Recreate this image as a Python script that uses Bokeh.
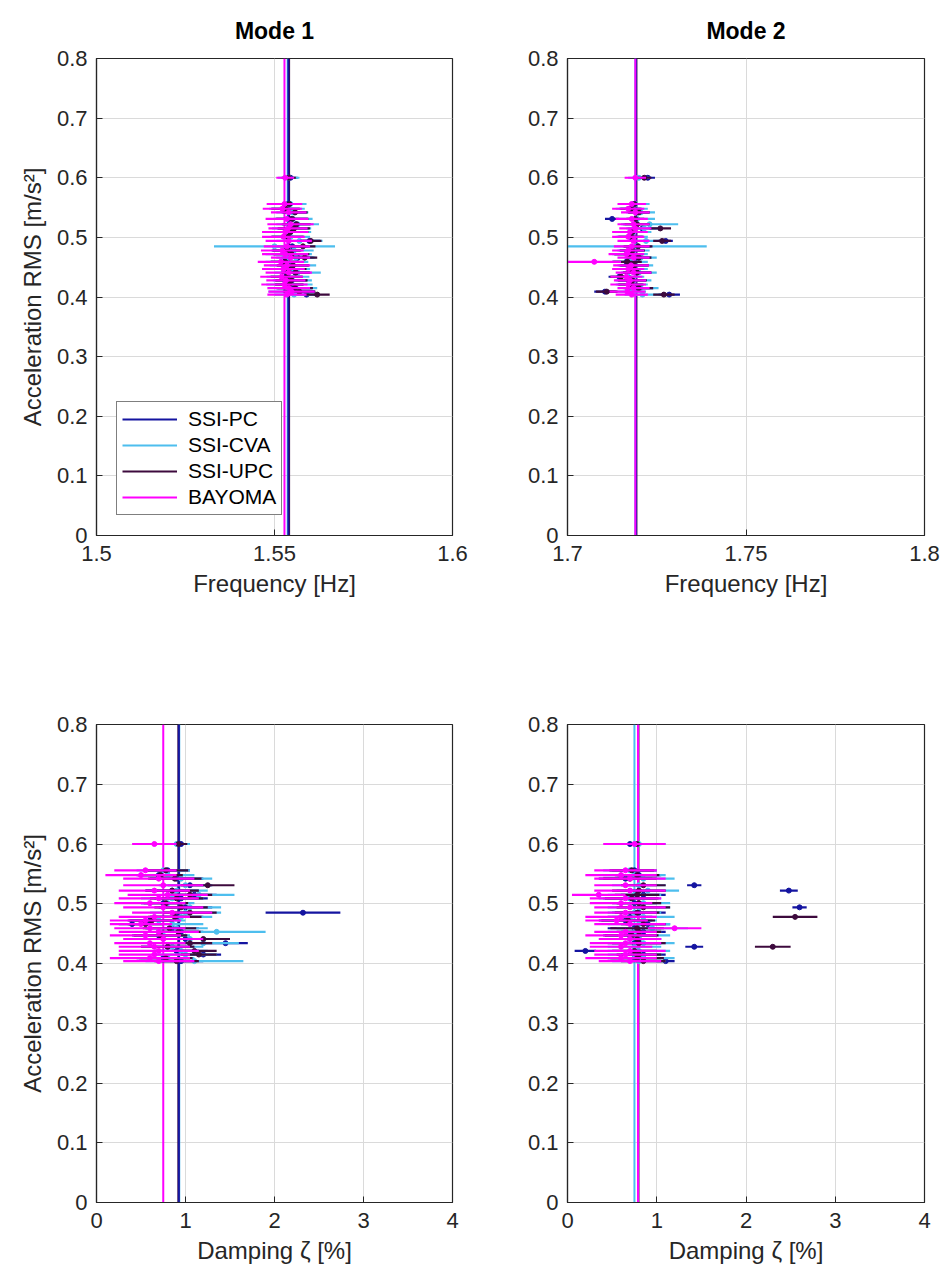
from bokeh.plotting import figure
from bokeh.layouts import gridplot
from bokeh.models import Range1d, FixedTicker, PrintfTickFormatter, Legend, LegendItem, ColumnDataSource
from bokeh.embed import file_html
from bokeh.resources import INLINE

# ---------------- data ----------------
methods = ["SSI-PC", "SSI-CVA", "SSI-UPC", "BAYOMA"]
colors = ["#1414a0", "#4dbeee", "#3d0a3d", "#ff00ff"]

rms = [0.600, 0.556, 0.548, 0.542, 0.531, 0.522, 0.515, 0.509, 0.501, 0.494, 0.485, 0.478,
       0.472, 0.466, 0.459, 0.453, 0.447, 0.441, 0.434, 0.428, 0.421, 0.415, 0.409, 0.404]

# Mode 1 frequency [Hz]
f1_pc = [1.5545, 1.5538, 1.5530, 1.5555, 1.5548, 1.5560, 1.5552, 1.5542, 1.5535, 1.5598, 1.5550, 1.5532,
         1.5545, 1.5565, 1.5528, 1.5550, 1.5538, 1.5558, 1.5532, 1.5546, 1.5540, 1.5555, 1.5568, 1.5590]
f1_pc_sd = [0.0020, 0.0035, 0.0040, 0.0035, 0.0045, 0.0040, 0.0045, 0.0050, 0.0045, 0.0030, 0.0045, 0.0040,
            0.0050, 0.0045, 0.0040, 0.0045, 0.0050, 0.0040, 0.0045, 0.0045, 0.0040, 0.0050, 0.0045, 0.0035]
f1_cva = [1.5540, 1.5545, 1.5535, 1.5550, 1.5552, 1.5565, 1.5548, 1.5538, 1.5545, 1.5570, 1.5500, 1.5555,
          1.5540, 1.5560, 1.5535, 1.5552, 1.5545, 1.5565, 1.5538, 1.5550, 1.5542, 1.5560, 1.5548, 1.5555]
f1_cva_sd = [0.0030, 0.0045, 0.0050, 0.0045, 0.0055, 0.0060, 0.0055, 0.0065, 0.0055, 0.0065, 0.0170, 0.0055,
             0.0065, 0.0055, 0.0060, 0.0065, 0.0055, 0.0065, 0.0060, 0.0055, 0.0065, 0.0060, 0.0065, 0.0055]
f1_upc = [1.5540, 1.5542, 1.5532, 1.5558, 1.5550, 1.5562, 1.5555, 1.5545, 1.5538, 1.5602, 1.5580, 1.5535,
          1.5548, 1.5585, 1.5530, 1.5552, 1.5540, 1.5560, 1.5535, 1.5548, 1.5542, 1.5558, 1.5570, 1.5620]
f1_upc_sd = [0.0020, 0.0035, 0.0040, 0.0035, 0.0045, 0.0040, 0.0045, 0.0050, 0.0045, 0.0030, 0.0035, 0.0040,
             0.0050, 0.0035, 0.0040, 0.0045, 0.0050, 0.0040, 0.0045, 0.0045, 0.0040, 0.0050, 0.0045, 0.0035]
f1_bay = [1.5530, 1.5528, 1.5522, 1.5540, 1.5535, 1.5545, 1.5538, 1.5530, 1.5525, 1.5540, 1.5535, 1.5522,
          1.5530, 1.5545, 1.5518, 1.5535, 1.5525, 1.5540, 1.5520, 1.5532, 1.5528, 1.5540, 1.5548, 1.5535]
f1_bay_sd = [0.0025, 0.0050, 0.0055, 0.0050, 0.0060, 0.0065, 0.0055, 0.0065, 0.0060, 0.0065, 0.0065, 0.0060,
             0.0065, 0.0055, 0.0065, 0.0065, 0.0060, 0.0065, 0.0060, 0.0055, 0.0065, 0.0060, 0.0065, 0.0055]
f1_mean = [1.5539, 1.5537, 1.5541, 1.5528]

# Mode 2 frequency [Hz]
f2_pc = [1.7225, 1.7185, 1.7175, 1.7200, 1.7125, 1.7190, 1.7210, 1.7180, 1.7175, 1.7275, 1.7195, 1.7180,
         1.7170, 1.7200, 1.7165, 1.7185, 1.7175, 1.7195, 1.7145, 1.7180, 1.7175, 1.7200, 1.7105, 1.7285]
f2_pc_sd = [0.0020, 0.0030, 0.0030, 0.0030, 0.0020, 0.0035, 0.0040, 0.0040, 0.0035, 0.0020, 0.0040, 0.0035,
            0.0040, 0.0035, 0.0040, 0.0040, 0.0035, 0.0040, 0.0030, 0.0040, 0.0035, 0.0040, 0.0030, 0.0030]
f2_cva = [1.7200, 1.7190, 1.7180, 1.7205, 1.7195, 1.7230, 1.7215, 1.7185, 1.7180, 1.7220, 1.7195, 1.7185,
          1.7175, 1.7205, 1.7175, 1.7190, 1.7180, 1.7200, 1.7170, 1.7185, 1.7180, 1.7205, 1.7175, 1.7210]
f2_cva_sd = [0.0030, 0.0040, 0.0045, 0.0040, 0.0050, 0.0080, 0.0050, 0.0050, 0.0045, 0.0050, 0.0195, 0.0045,
             0.0050, 0.0045, 0.0050, 0.0050, 0.0045, 0.0050, 0.0045, 0.0050, 0.0045, 0.0050, 0.0045, 0.0050]
f2_upc = [1.7215, 1.7188, 1.7178, 1.7200, 1.7190, 1.7195, 1.7260, 1.7182, 1.7178, 1.7265, 1.7198, 1.7182,
          1.7172, 1.7200, 1.7168, 1.7188, 1.7178, 1.7195, 1.7150, 1.7182, 1.7178, 1.7200, 1.7110, 1.7270]
f2_upc_sd = [0.0020, 0.0030, 0.0030, 0.0030, 0.0025, 0.0035, 0.0030, 0.0040, 0.0035, 0.0025, 0.0040, 0.0035,
             0.0040, 0.0035, 0.0040, 0.0040, 0.0035, 0.0040, 0.0030, 0.0040, 0.0035, 0.0040, 0.0030, 0.0030]
f2_bay = [1.7190, 1.7180, 1.7170, 1.7190, 1.7180, 1.7185, 1.7190, 1.7175, 1.7170, 1.7185, 1.7180, 1.7170,
          1.7165, 1.7185, 1.7075, 1.7178, 1.7170, 1.7185, 1.7165, 1.7175, 1.7170, 1.7185, 1.7168, 1.7180]
f2_bay_sd = [0.0030, 0.0040, 0.0045, 0.0040, 0.0045, 0.0045, 0.0045, 0.0050, 0.0045, 0.0045, 0.0050, 0.0045,
             0.0050, 0.0045, 0.0075, 0.0050, 0.0045, 0.0050, 0.0045, 0.0045, 0.0050, 0.0045, 0.0050, 0.0045]
f2_mean = [1.7192, 1.7190, 1.7193, 1.7190]

# Mode 1 damping [%]
d1_pc = [0.95, 0.80, 0.70, 0.90, 1.05, 0.85, 1.10, 0.95, 0.75, 1.00, 2.32, 0.90,
         0.60, 0.40, 0.85, 0.95, 0.70, 1.00, 1.45, 0.80, 0.90, 1.20, 0.75, 0.95]
d1_pc_sd = [0.10, 0.25, 0.25, 0.30, 0.25, 0.30, 0.25, 0.30, 0.25, 0.30, 0.42, 0.30,
            0.25, 0.15, 0.30, 0.25, 0.30, 0.25, 0.25, 0.30, 0.25, 0.20, 0.30, 0.25]
d1_cva = [0.90, 0.75, 0.80, 0.95, 1.00, 0.90, 1.15, 0.85, 0.80, 1.05, 1.00, 0.95,
          0.70, 0.85, 0.90, 1.35, 0.75, 1.05, 1.20, 0.85, 0.95, 1.00, 0.80, 1.10]
d1_cva_sd = [0.15, 0.30, 0.30, 0.35, 0.30, 0.35, 0.40, 0.35, 0.30, 0.35, 0.40, 0.35,
             0.30, 0.35, 0.35, 0.55, 0.30, 0.35, 0.40, 0.35, 0.30, 0.35, 0.30, 0.55]
d1_upc = [0.92, 0.78, 0.72, 0.88, 1.25, 0.85, 1.05, 0.90, 0.78, 0.95, 1.05, 0.88,
          0.62, 0.55, 0.82, 0.92, 0.72, 1.20, 1.05, 0.80, 1.10, 1.15, 0.78, 0.90]
d1_upc_sd = [0.10, 0.25, 0.25, 0.30, 0.30, 0.30, 0.25, 0.30, 0.25, 0.30, 0.30, 0.30,
             0.25, 0.20, 0.30, 0.25, 0.30, 0.30, 0.25, 0.30, 0.25, 0.20, 0.30, 0.25]
d1_bay = [0.65, 0.55, 0.50, 0.70, 0.75, 0.65, 0.80, 0.70, 0.60, 0.75, 0.85, 0.65,
          0.55, 0.50, 0.60, 0.70, 0.55, 0.75, 0.60, 0.65, 0.70, 0.65, 0.60, 0.70]
d1_bay_sd = [0.25, 0.35, 0.40, 0.40, 0.45, 0.40, 0.45, 0.45, 0.40, 0.45, 0.45, 0.40,
             0.40, 0.35, 0.40, 0.45, 0.40, 0.45, 0.40, 0.40, 0.45, 0.40, 0.45, 0.40]
d1_mean = [0.925, 0.93, 0.92, 0.75]

# Mode 2 damping [%]
d2_pc = [0.70, 0.75, 0.80, 0.65, 1.42, 2.48, 0.85, 0.70, 0.75, 2.60, 0.80, 0.70,
         0.65, 0.90, 0.75, 0.85, 0.70, 0.80, 0.75, 1.42, 0.20, 0.85, 0.75, 1.10]
d2_pc_sd = [0.08, 0.25, 0.25, 0.30, 0.08, 0.10, 0.25, 0.30, 0.25, 0.08, 0.30, 0.25,
            0.30, 0.25, 0.30, 0.25, 0.30, 0.25, 0.30, 0.10, 0.12, 0.25, 0.30, 0.10]
d2_cva = [0.80, 0.70, 0.75, 0.85, 0.80, 0.90, 0.75, 0.70, 0.85, 0.80, 0.75, 0.85,
          0.70, 0.80, 0.95, 0.75, 0.80, 0.70, 0.85, 0.75, 0.80, 0.75, 0.85, 0.80]
d2_cva_sd = [0.30, 0.30, 0.35, 0.35, 0.30, 0.35, 0.30, 0.35, 0.30, 0.35, 0.30, 0.35,
             0.30, 0.35, 0.40, 0.30, 0.35, 0.30, 0.35, 0.30, 0.35, 0.30, 0.35, 0.30]
d2_upc = [0.78, 0.72, 0.78, 0.70, 0.85, 0.80, 0.78, 0.72, 0.80, 0.85, 0.78, 2.55,
          0.68, 0.85, 0.78, 0.80, 0.72, 0.78, 0.80, 2.30, 0.75, 0.80, 0.78, 0.85]
d2_upc_sd = [0.25, 0.25, 0.25, 0.30, 0.25, 0.30, 0.25, 0.30, 0.25, 0.30, 0.25, 0.25,
             0.30, 0.25, 0.30, 0.25, 0.30, 0.25, 0.30, 0.20, 0.25, 0.25, 0.30, 0.25]
d2_bay = [0.75, 0.65, 0.60, 0.70, 0.65, 0.70, 0.35, 0.65, 0.60, 0.70, 0.65, 0.60,
          0.55, 0.70, 1.20, 0.65, 0.60, 0.70, 0.65, 0.60, 0.70, 0.65, 0.60, 0.70]
d2_bay_sd = [0.35, 0.35, 0.40, 0.40, 0.35, 0.40, 0.30, 0.40, 0.35, 0.40, 0.35, 0.40,
             0.35, 0.40, 0.30, 0.35, 0.40, 0.35, 0.40, 0.35, 0.40, 0.35, 0.40, 0.35]
d2_mean = [0.79, 0.75, 0.795, 0.79]

y_ticks = [0, 0.1, 0.2, 0.3, 0.4, 0.5, 0.6, 0.7, 0.8]
f1_ticks = [1.5, 1.55, 1.6]
f2_ticks = [1.7, 1.75, 1.8]
d_ticks = [0, 1, 2, 3, 4]

FONT = "Liberation Sans"
TXT = "#262626"
# drawing order of the mean lines (UPC below PC so the blue shows)
line_order = [1, 2, 0, 3]


def make_panel(xr, xticks, series, means, title, xlabel, ylabel, left_col, top_row, legend=False):
    p = figure(
        frame_width=356 if left_col else 357,
        frame_height=477 if top_row else 478,
        x_range=Range1d(*xr), y_range=Range1d(y_ticks[0], y_ticks[-1]),
        output_backend="svg", toolbar_location=None,
        min_border_left=96 if left_col else 91,
        min_border_right=24 if left_col else 28,
        min_border_top=58 if top_row else 84,
        min_border_bottom=105 if top_row else 71,
        title=title,
        background_fill_color="white", border_fill_color="white",
    )
    p.outline_line_color = "#262626"
    p.outline_line_width = 1.2
    if title:
        p.title.align = "center"
        p.title.vertical_align = "top"
        p.title.text_font = FONT
        p.title.text_font_size = "23px"
        p.title.text_font_style = "bold"
        p.title.text_color = "black"
        p.title.standoff = 26

    for ax, ticks in ((p.xaxis[0], xticks), (p.yaxis[0], y_ticks)):
        ax.ticker = FixedTicker(ticks=ticks)
        ax.formatter = PrintfTickFormatter(format="%g")
        ax.major_label_text_font = FONT
        ax.major_label_text_font_size = "22px"
        ax.major_label_text_color = TXT
        ax.axis_label_text_font = FONT
        ax.axis_label_text_font_size = "24px"
        ax.axis_label_text_font_style = "normal"
        ax.axis_label_text_color = TXT
        ax.axis_line_color = "#262626"
        ax.axis_line_width = 1.2
        ax.major_tick_in = 6
        ax.major_tick_out = 0
        ax.major_tick_line_color = "#262626"
        ax.minor_tick_line_color = None
    p.xaxis.axis_label = xlabel
    p.xaxis.major_label_standoff = 10
    p.xaxis.axis_label_standoff = 6
    p.yaxis.major_label_standoff = 9
    if ylabel:
        p.yaxis.axis_label = ylabel
        p.yaxis.axis_label_standoff = 8

    p.xgrid.grid_line_color = "#dadada"
    p.ygrid.grid_line_color = "#dadada"
    p.xgrid.grid_line_width = 1
    p.ygrid.grid_line_width = 1

    # mean vertical lines
    items = [None] * 4
    for i in line_order:
        r = p.segment(x0=[means[i]], x1=[means[i]], y0=[y_ticks[0]], y1=[y_ticks[-1]],
                      line_color=colors[i], line_width=2)
        items[i] = LegendItem(label=methods[i], renderers=[r])

    # error bars
    for (m, sd), col in zip(series, colors):
        src = ColumnDataSource(dict(
            y=rms, x=m,
            lo=[a - b for a, b in zip(m, sd)],
            hi=[a + b for a, b in zip(m, sd)],
        ))
        p.segment(x0="lo", x1="hi", y0="y", y1="y", source=src, line_color=col, line_width=2.2)
        p.scatter(x="x", y="y", source=src, size=5, marker="circle",
                  fill_color=col, line_color=col)

    if legend:
        lg = Legend(items=items, location=(20, 20))
        lg.label_text_font = FONT
        lg.label_text_font_size = "21px"
        lg.label_text_color = "black"
        lg.glyph_width = 55
        lg.glyph_height = 24
        lg.label_height = 24
        lg.label_standoff = 11
        lg.spacing = 2
        lg.padding = 5
        lg.margin = 0
        lg.border_line_color = "black"
        lg.border_line_width = 1
        lg.background_fill_color = "white"
        lg.background_fill_alpha = 1
        p.add_layout(lg)
    return p


ylab = "Acceleration RMS [m/s\u00b2]"

p1 = make_panel((1.5, 1.6), f1_ticks,
                [(f1_pc, f1_pc_sd), (f1_cva, f1_cva_sd), (f1_upc, f1_upc_sd), (f1_bay, f1_bay_sd)],
                f1_mean, "Mode 1", "Frequency [Hz]", ylab, True, True, legend=True)
p2 = make_panel((1.7, 1.8), f2_ticks,
                [(f2_pc, f2_pc_sd), (f2_cva, f2_cva_sd), (f2_upc, f2_upc_sd), (f2_bay, f2_bay_sd)],
                f2_mean, "Mode 2", "Frequency [Hz]", None, False, True)
p3 = make_panel((0, 4), d_ticks,
                [(d1_pc, d1_pc_sd), (d1_cva, d1_cva_sd), (d1_upc, d1_upc_sd), (d1_bay, d1_bay_sd)],
                d1_mean, None, "Damping \u03b6 [%]", ylab, True, False)
p4 = make_panel((0, 4), d_ticks,
                [(d2_pc, d2_pc_sd), (d2_cva, d2_cva_sd), (d2_upc, d2_upc_sd), (d2_bay, d2_bay_sd)],
                d2_mean, None, "Damping \u03b6 [%]", None, False, False)

grid = gridplot([[p1, p2], [p3, p4]], toolbar_location=None)

open("out.html", "w").write(file_html(grid, INLINE))
